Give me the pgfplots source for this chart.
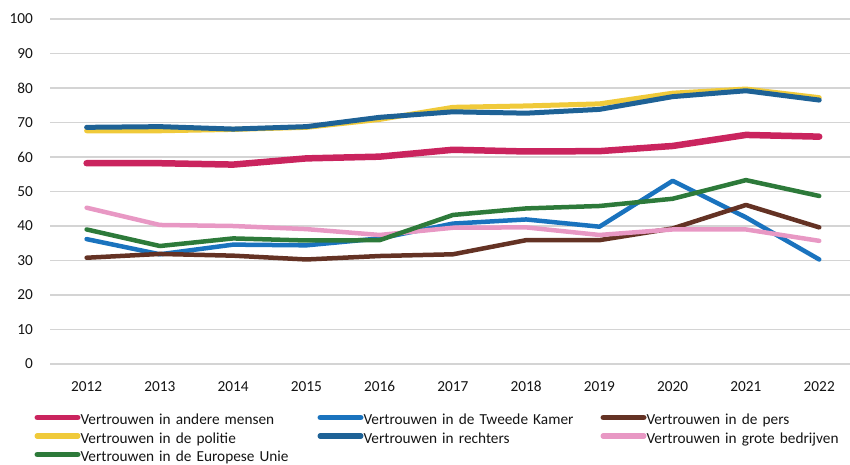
\documentclass[border=0pt]{standalone}
\usepackage{pgfplots}
\pgfplotsset{compat=1.18}
\usepackage{fontspec}
\setmainfont{Carlito}
\definecolor{cmens}{RGB}{202,36,94}
\definecolor{ckamer}{RGB}{26,115,190}
\definecolor{cpers}{RGB}{100,50,36}
\definecolor{cpol}{RGB}{240,202,58}
\definecolor{crecht}{RGB}{30,98,150}
\definecolor{cbedr}{RGB}{232,152,196}
\definecolor{ceu}{RGB}{45,122,58}
\definecolor{gridgray}{RGB}{212,212,212}
\definecolor{txt}{RGB}{20,20,20}
\begin{document}
\begin{tikzpicture}[font=\fontsize{15.3pt}{18pt}\selectfont]
\useasboundingbox (-50pt,-100pt) rectangle (800pt,364pt);
\begin{axis}[
  scale only axis, width=800pt, height=345pt,
  xmin=2011.5, xmax=2022.42, ymin=0, ymax=100,
  ytick={0,10,...,100},
  xtick={2012,2013,2014,2015,2016,2017,2018,2019,2020,2021,2022},
  xticklabels={2012,2013,2014,2015,2016,2017,2018,2019,2020,2021,2022},
  /pgf/number format/assume math mode=true,
  axis line style={draw=none},
  major tick style={draw=none},
  ymajorgrids, grid style={color=gridgray, line width=1.3pt},
  xticklabel style={anchor=center, inner sep=0pt, yshift=-22.7pt, text=txt},
  yticklabel style={anchor=east, inner sep=0pt, xshift=-17pt, text=txt},
  clip=false,
  legend columns=3,
  legend cell align=left,
  legend style={draw=none, fill=none, at={(axis description cs:0,0)}, anchor=north west,
    xshift=-15.5pt, yshift=-49.5pt, inner sep=0pt, outer sep=0pt, row sep=3.5pt,
    nodes={inner sep=0pt, text width=230pt, text height=11pt, text depth=4pt, text=txt},
    /tikz/every even column/.append style={column sep=7pt}},
  legend image code/.code={\draw[#1, line width=5.5pt, line cap=round] (2.75pt,3.5pt) -- (43.25pt,3.5pt);},
  every axis plot/.append style={line join=round, line cap=round},
]
\addplot[cmens, line width=6.5pt] coordinates {(2012,58.2)(2013,58.2)(2014,57.8)(2015,59.6)(2016,60.1)(2017,62.1)(2018,61.6)(2019,61.7)(2020,63.2)(2021,66.4)(2022,65.9)};
\addlegendentry{Vertrouwen in andere mensen}
\addplot[ckamer, line width=4.5pt] coordinates {(2012,36.2)(2013,31.8)(2014,34.6)(2015,34.4)(2016,36.4)(2017,40.7)(2018,41.9)(2019,39.8)(2020,53.1)(2021,42.5)(2022,30.3)};
\addlegendentry{Vertrouwen in de Tweede Kamer}
\addplot[cpers, line width=4.5pt] coordinates {(2012,30.8)(2013,31.9)(2014,31.4)(2015,30.3)(2016,31.3)(2017,31.8)(2018,35.9)(2019,35.9)(2020,39.3)(2021,46.1)(2022,39.6)};
\addlegendentry{Vertrouwen in de pers}
\addplot[cpol, line width=5pt] coordinates {(2012,67.6)(2013,67.6)(2014,68.0)(2015,68.6)(2016,70.9)(2017,74.4)(2018,74.8)(2019,75.4)(2020,78.5)(2021,79.7)(2022,77.2)};
\addlegendentry{Vertrouwen in de politie}
\addplot[crecht, line width=5pt] coordinates {(2012,68.6)(2013,68.8)(2014,68.1)(2015,68.8)(2016,71.5)(2017,73.1)(2018,72.7)(2019,73.8)(2020,77.5)(2021,79.2)(2022,76.5)};
\addlegendentry{Vertrouwen in rechters}
\addplot[cbedr, line width=4.5pt] coordinates {(2012,45.3)(2013,40.3)(2014,40.0)(2015,39.1)(2016,37.4)(2017,39.5)(2018,39.6)(2019,37.4)(2020,39.0)(2021,39.0)(2022,35.7)};
\addlegendentry{Vertrouwen in grote bedrijven}
\addplot[ceu, line width=4.5pt] coordinates {(2012,39.0)(2013,34.2)(2014,36.4)(2015,35.8)(2016,35.9)(2017,43.2)(2018,45.1)(2019,45.8)(2020,47.9)(2021,53.3)(2022,48.7)};
\addlegendentry{Vertrouwen in de Europese Unie}
\end{axis}
\end{tikzpicture}
\end{document}
